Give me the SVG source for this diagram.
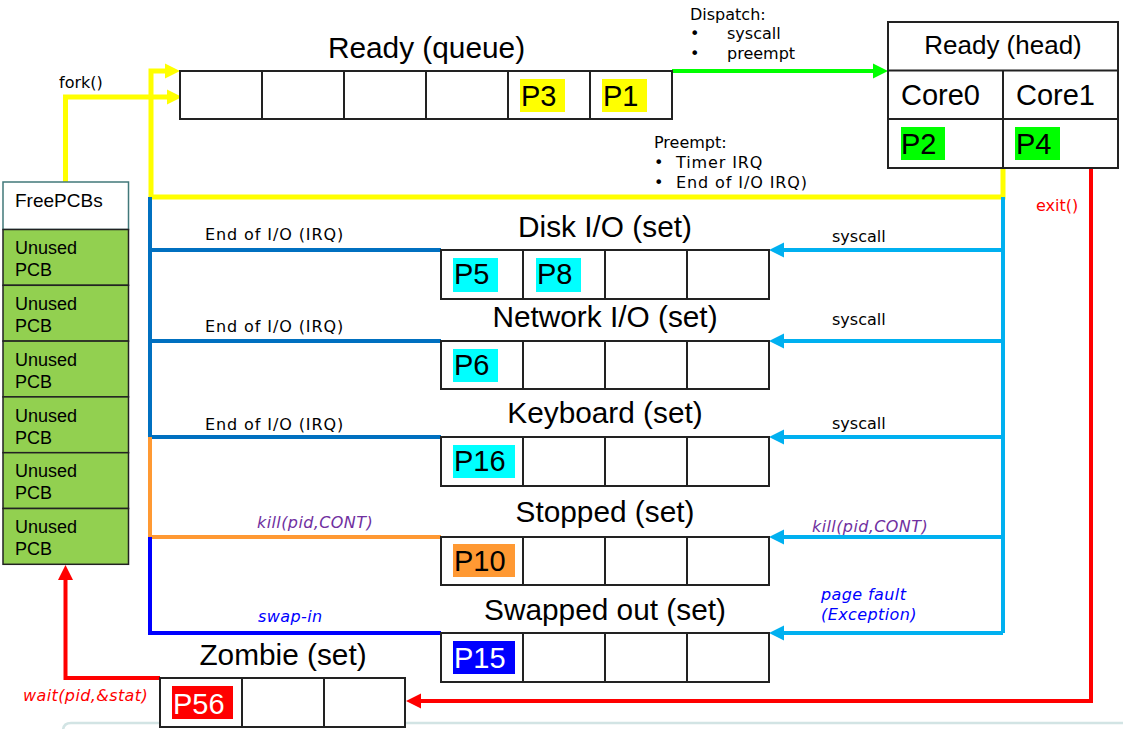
<svg xmlns="http://www.w3.org/2000/svg" width="1123" height="729" viewBox="0 0 1123 729">
<style>
.box{fill:#fff;stroke:#222;stroke-width:2}
.div{stroke:#222;stroke-width:2}
.title{font-family:"Liberation Sans",Arial,sans-serif;font-size:29.8px;fill:#000}
.ptxt{font-family:"Liberation Sans",Arial,sans-serif;font-size:29px;fill:#000}
.ptxtw{font-family:"Liberation Sans",Arial,sans-serif;font-size:29px;fill:#fff}
.lbl{font-family:"DejaVu Sans",Verdana,sans-serif;font-size:16px;fill:#000}
.io{letter-spacing:0.9px}
.it{font-style:italic;letter-spacing:0.4px}
.unused{font-family:"Liberation Sans",Arial,sans-serif;font-size:18px;fill:#000}
.cell{fill:#92d050;stroke:#222;stroke-width:1.5}
.c{fill:none;stroke-linejoin:miter}
</style>
<defs>
<marker id="aY" markerUnits="userSpaceOnUse" markerWidth="16" markerHeight="17" refX="0" refY="8" orient="auto"><path d="M0,0.5 L15,8 L0,15.5 z" fill="#ffff00"/></marker>
<marker id="aG" markerUnits="userSpaceOnUse" markerWidth="16" markerHeight="17" refX="0" refY="8" orient="auto"><path d="M0,0.5 L15,8 L0,15.5 z" fill="#00ff00"/></marker>
<marker id="aC" markerUnits="userSpaceOnUse" markerWidth="16" markerHeight="17" refX="0" refY="8" orient="auto"><path d="M0,0.5 L15,8 L0,15.5 z" fill="#00b0f0"/></marker>
<marker id="aR" markerUnits="userSpaceOnUse" markerWidth="16" markerHeight="17" refX="0" refY="8" orient="auto"><path d="M0,0.5 L15,8 L0,15.5 z" fill="#ff0000"/></marker>
</defs>
<rect width="1123" height="729" fill="#fff"/>
<path d="M63,740 V731 Q63,723 71,723 H1123" fill="none" stroke="#d2e4e4" stroke-width="2.5"/>

<g id="connectors">
<path class="c" d="M672,71 H873" stroke="#00ff00" stroke-width="4" marker-end="url(#aG)"/>
<path class="c" d="M1003,168 V197 H151 V71 H165" stroke="#ffff00" stroke-width="5" marker-end="url(#aY)"/>
<path class="c" d="M65.5,182 V97 H167" stroke="#ffff00" stroke-width="5" marker-end="url(#aY)"/>
<path class="c" d="M150,197 V437 M150,250 H441 M150,341 H441 M150,437 H441" stroke="#0070c0" stroke-width="4"/>
<path class="c" d="M150,437 V537 H441" stroke="#ff9933" stroke-width="4"/>
<path class="c" d="M150,537 V633 H441" stroke="#0000ff" stroke-width="4"/>
<path class="c" d="M1003,197 V633" stroke="#00b0f0" stroke-width="4"/>
<path class="c" d="M1003,250 H784" stroke="#00b0f0" stroke-width="4" marker-end="url(#aC)"/>
<path class="c" d="M1003,341 H784" stroke="#00b0f0" stroke-width="4" marker-end="url(#aC)"/>
<path class="c" d="M1003,437 H784" stroke="#00b0f0" stroke-width="4" marker-end="url(#aC)"/>
<path class="c" d="M1003,537 H784" stroke="#00b0f0" stroke-width="4" marker-end="url(#aC)"/>
<path class="c" d="M1003,633 H784" stroke="#00b0f0" stroke-width="4" marker-end="url(#aC)"/>
<path class="c" d="M1091,168 V701 H421" stroke="#ff0000" stroke-width="4" marker-end="url(#aR)"/>
<path class="c" d="M160,678 H65.5 V580" stroke="#ff0000" stroke-width="4" marker-end="url(#aR)"/>

<text class="lbl" x="690" y="20">Dispatch:</text>
<text class="lbl" x="690" y="39">•</text><text class="lbl" x="727" y="39">syscall</text>
<text class="lbl" x="690" y="59">•</text><text class="lbl" x="727" y="59">preempt</text>
<text class="lbl" x="654" y="148">Preempt:</text>
<text class="lbl" x="654" y="168">•</text><text class="lbl io" x="676" y="168">Timer IRQ</text>
<text class="lbl" x="654" y="188">•</text><text class="lbl io" x="676" y="188">End of I/O IRQ)</text>
<text class="lbl" x="59" y="88">fork()</text>
<text class="lbl io" x="205" y="240">End of I/O (IRQ)</text>
<text class="lbl io" x="205" y="332">End of I/O (IRQ)</text>
<text class="lbl io" x="205" y="430">End of I/O (IRQ)</text>
<text class="lbl it" x="257" y="528" style="fill:#7030a0">kill(pid,CONT)</text>
<text class="lbl it" x="258" y="622" style="fill:#0000ff">swap-in</text>
<text class="lbl" x="832" y="242">syscall</text>
<text class="lbl" x="832" y="325">syscall</text>
<text class="lbl" x="832" y="429">syscall</text>
<text class="lbl it" x="812" y="532" style="fill:#7030a0">kill(pid,CONT)</text>
<text class="lbl it" x="821" y="600" style="fill:#0000ff">page fault</text>
<text class="lbl it" x="821" y="620" style="fill:#0000ff">(Exception)</text>
<text class="lbl" x="1036" y="211" style="fill:#ff0000">exit()</text>
<text class="lbl it" x="23" y="701" style="fill:#ff0000">wait(pid,&amp;stat)</text>
</g>

<g id="ready-queue">
<text class="title" x="426.5" y="58" text-anchor="middle">Ready (queue)</text>
<rect class="box" x="180" y="71" width="492" height="48"/>
<path class="div" d="M262,71 V119 M344,71 V119 M426,71 V119 M508,71 V119 M590,71 V119"/>
<rect x="520" y="79" width="45" height="33" fill="#ffff00"/>
<text class="ptxt" x="521" y="106">P3</text>
<rect x="602" y="79" width="45" height="33" fill="#ffff00"/>
<text class="ptxt" x="603" y="106">P1</text>
</g>

<g id="ready-head">
<rect class="box" x="888" y="22" width="230" height="146"/>
<path class="div" d="M888,70.5 H1118 M888,119 H1118 M1003,70.5 V168"/>
<text class="title" x="1003" y="54" text-anchor="middle" style="font-size:26px">Ready (head)</text>
<text class="title" x="901" y="105" style="font-size:29px">Core0</text>
<text class="title" x="1016" y="105" style="font-size:29px">Core1</text>
<rect x="901" y="127" width="44" height="33" fill="#00ff00"/>
<text class="ptxt" x="901" y="154">P2</text>
<rect x="1015" y="127" width="45" height="33" fill="#00ff00"/>
<text class="ptxt" x="1016" y="154">P4</text>
</g>

<g id="free-pcbs">
<rect x="3" y="182" width="125.5" height="47.5" fill="#fff" stroke="#41787a" stroke-width="1.5"/>
<text x="15" y="207" style="font-family:'Liberation Sans',Arial,sans-serif;font-size:19px">FreePCBs</text>
<rect class="cell" x="3" y="229.5" width="125.5" height="55.8"/>
<rect class="cell" x="3" y="285.3" width="125.5" height="55.8"/>
<rect class="cell" x="3" y="341.1" width="125.5" height="55.8"/>
<rect class="cell" x="3" y="396.9" width="125.5" height="55.8"/>
<rect class="cell" x="3" y="452.7" width="125.5" height="55.8"/>
<rect class="cell" x="3" y="508.5" width="125.5" height="55.8"/>
<text class="unused" x="15" y="254">Unused</text><text class="unused" x="15" y="276">PCB</text>
<text class="unused" x="15" y="310">Unused</text><text class="unused" x="15" y="332">PCB</text>
<text class="unused" x="15" y="365.5">Unused</text><text class="unused" x="15" y="387.5">PCB</text>
<text class="unused" x="15" y="421.5">Unused</text><text class="unused" x="15" y="443.5">PCB</text>
<text class="unused" x="15" y="477">Unused</text><text class="unused" x="15" y="499">PCB</text>
<text class="unused" x="15" y="533">Unused</text><text class="unused" x="15" y="555">PCB</text>
</g>

<g id="disk-io">
<text class="title" x="605" y="237" text-anchor="middle">Disk I/O (set)</text>
<rect class="box" x="441" y="250" width="328" height="49"/>
<path class="div" d="M523,250 V299 M605,250 V299 M687,250 V299"/>
<rect x="453" y="258" width="45" height="34" fill="#00ffff"/>
<text class="ptxt" x="454" y="284">P5</text>
<rect x="536" y="258" width="45" height="34" fill="#00ffff"/>
<text class="ptxt" x="537" y="284">P8</text>
</g>

<g id="network-io">
<text class="title" x="605" y="327" text-anchor="middle">Network I/O (set)</text>
<rect class="box" x="441" y="341" width="328" height="48"/>
<path class="div" d="M523,341 V389 M605,341 V389 M687,341 V389"/>
<rect x="453" y="349" width="45" height="33" fill="#00ffff"/>
<text class="ptxt" x="454" y="375">P6</text>
</g>

<g id="keyboard">
<text class="title" x="605" y="423" text-anchor="middle">Keyboard (set)</text>
<rect class="box" x="441" y="437" width="328" height="49"/>
<path class="div" d="M523,437 V486 M605,437 V486 M687,437 V486"/>
<rect x="453" y="445" width="62" height="33" fill="#00ffff"/>
<text class="ptxt" x="454" y="471">P16</text>
</g>

<g id="stopped">
<text class="title" x="605" y="522" text-anchor="middle">Stopped (set)</text>
<rect class="box" x="441" y="537" width="328" height="48"/>
<path class="div" d="M523,537 V585 M605,537 V585 M687,537 V585"/>
<rect x="453" y="544" width="62" height="33" fill="#ff9933"/>
<text class="ptxt" x="454" y="571">P10</text>
</g>

<g id="swapped-out">
<text class="title" x="605" y="620" text-anchor="middle">Swapped out (set)</text>
<rect class="box" x="441" y="633" width="328" height="49"/>
<path class="div" d="M523,633 V682 M605,633 V682 M687,633 V682"/>
<rect x="453" y="641" width="62" height="33" fill="#0000ff"/>
<text class="ptxtw" x="454" y="668">P15</text>
</g>

<g id="zombie">
<text class="title" x="283" y="665" text-anchor="middle">Zombie (set)</text>
<rect class="box" x="160" y="678" width="245" height="49"/>
<path class="div" d="M242,678 V727 M324,678 V727"/>
<rect x="172" y="686" width="61" height="33" fill="#ff0000"/>
<text class="ptxtw" x="173" y="714">P56</text>
</g>
</svg>
